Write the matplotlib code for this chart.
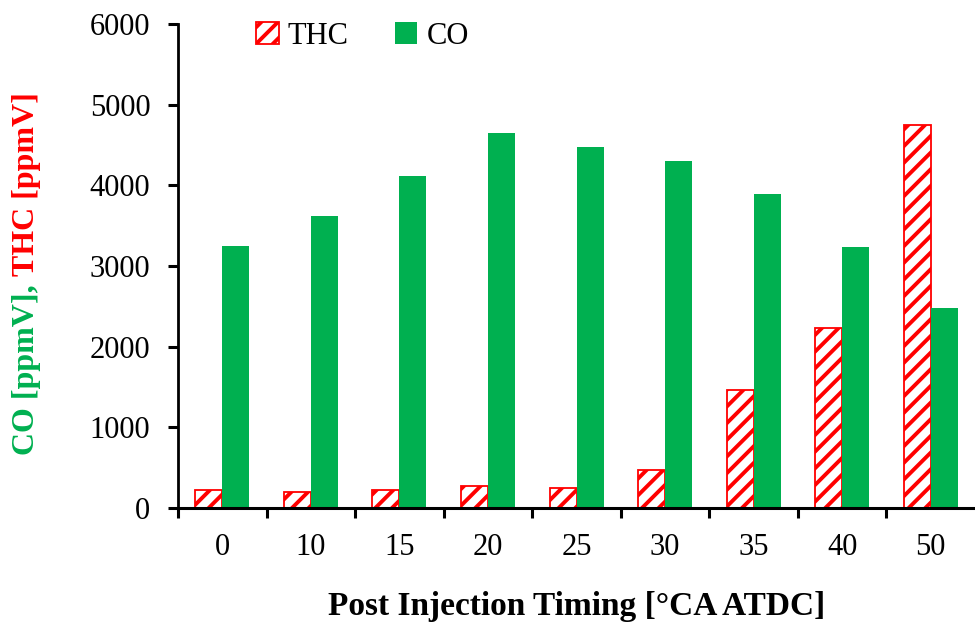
import numpy as np
import matplotlib.pyplot as plt

# values
timing = ['0', '10', '15', '20', '25', '30', '35', '40', '50']
thc = [220, 195, 220, 270, 250, 470, 1460, 2230, 4750]
co = [3250, 3620, 4115, 4645, 4475, 4300, 3890, 3235, 2475]

green = '#00B050'
red = '#FF0000'

plt.rcParams['font.family'] = ['Liberation Serif', 'DejaVu Serif']
plt.rcParams['hatch.linewidth'] = 2.8
plt.rcParams['hatch.color'] = red

fig = plt.figure(figsize=(9.75, 6.26), dpi=100)
ax = fig.add_axes([0.1826, 0.1885, 0.8174, 0.7732])

x = np.arange(len(timing))
w = 0.305
ax.bar(x - w / 2, thc, w, facecolor='white', edgecolor=red, hatch='//', linewidth=1.3, label='THC')
ax.bar(x + w / 2, co, w, color=green, label='CO')

ax.set_xlim(-0.5, len(timing) - 0.5)
ax.set_ylim(0, 6000)
ax.set_yticks(range(0, 6001, 1000))

# ticks between categories, labels at category centres
ax.set_xticks(x)
ax.set_xticklabels(timing)
ax.set_xticks(x - 0.5, minor=True)
ax.tick_params(axis='x', which='major', length=0, pad=18, labelsize=22)
ax.tick_params(axis='x', which='minor', length=7, width=2.2, direction='out')
ax.tick_params(axis='y', length=7, width=2.2, direction='out', labelsize=22, pad=13)

for s in ['top', 'right']:
    ax.spines[s].set_visible(False)
ax.spines['left'].set_linewidth(2)
ax.spines['bottom'].set_linewidth(2.2)

ax.set_xlabel('Post Injection Timing [°CA ATDC]', fontsize=24, fontweight='bold', labelpad=21)

leg = ax.legend(loc='upper left', bbox_to_anchor=(0.082, 1.03), ncol=2, frameon=False,
                fontsize=22, handlelength=0.75, handleheight=0.75, handletextpad=0.3,
                columnspacing=1.5, borderaxespad=0)

# two-colour y label
t1 = fig.text(0.027, 1 - 455 / 626, 'CO [ppmV], ', color=green, fontsize=23, fontweight='bold',
              rotation=90, ha='center', va='bottom')
fig.canvas.draw()
bb = t1.get_window_extent()
fig.text(0.027, bb.y1 / fig.bbox.height, 'THC [ppmV]', color=red, fontsize=23, fontweight='bold',
         rotation=90, ha='center', va='bottom')

fig.savefig('out.png', dpi=100)
